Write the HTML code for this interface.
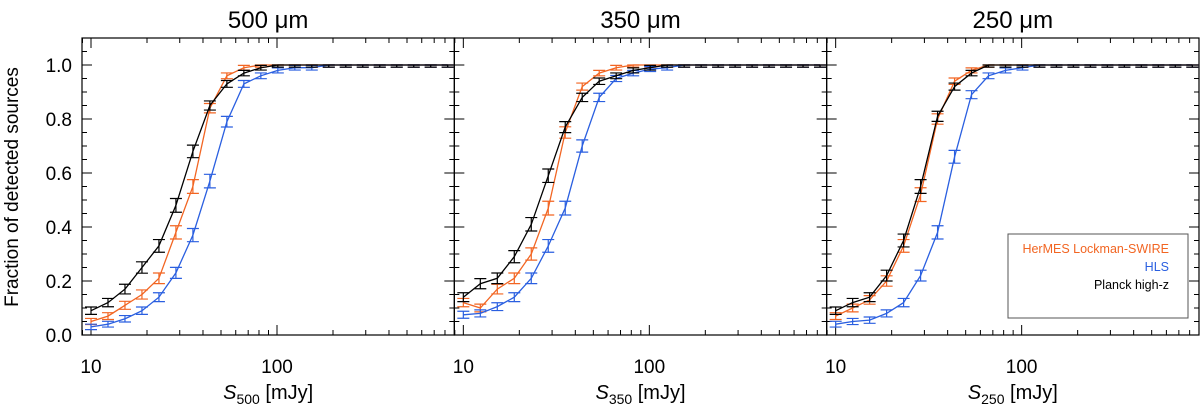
<!DOCTYPE html>
<html><head><meta charset="utf-8"><style>
html,body{margin:0;padding:0;background:#fff;}
svg{display:block;font-family:"Liberation Sans",sans-serif;}
</style></head><body>
<svg id="chart" width="1200" height="417" viewBox="0 0 1200 417">
<text x="18" y="187" transform="rotate(-90 18 187)" text-anchor="middle" font-size="19">Fraction of detected sources</text>
<g id="panels"></g>
<g>
<rect x="1008" y="234" width="180" height="84" fill="#fff" stroke="#555" stroke-width="1"/>
<text x="1169" y="253" text-anchor="end" font-size="12.5" fill="#f26522">HerMES Lockman-SWIRE</text>
<text x="1169" y="271" text-anchor="end" font-size="12.5" fill="#2a5fe0">HLS</text>
<text x="1169" y="289" text-anchor="end" font-size="12.5" fill="#000">Planck high-z</text>
</g>
</svg>
<script>
const fluxRatio = 1.234;
const nPoints = 22;
const panelTitles = ["500", "350", "250"];
const yTicks = [0.0, 0.2, 0.4, 0.6, 0.8, 1.0];
const xTickLabels = [10, 100];
const orange500 = [0.05,0.07,0.11,0.15,0.21,0.38,0.55,0.84,0.96,0.99,1,1,1,1,1,1,1,1,1,1,1,1];
const blue500   = [0.03,0.04,0.06,0.09,0.14,0.23,0.37,0.57,0.79,0.93,0.96,0.98,0.99,0.99,1,1,1,1,1,1,1,1];
const black500  = [0.09,0.12,0.17,0.25,0.33,0.48,0.68,0.85,0.93,0.97,0.99,1,1,1,1,1,1,1,1,1,1,1];
const orange350 = [0.12,0.10,0.17,0.21,0.30,0.47,0.75,0.92,0.97,0.99,1,1,1,1,1,1,1,1,1,1,1,1];
const blue350   = [0.075,0.08,0.105,0.14,0.21,0.33,0.47,0.70,0.88,0.95,0.97,0.985,0.99,1,1,1,1,1,1,1,1,1];
const black350  = [0.14,0.19,0.21,0.29,0.41,0.59,0.77,0.88,0.94,0.96,0.98,0.99,1,1,1,1,1,1,1,1,1,1];
const orange250 = [0.07,0.10,0.13,0.20,0.33,0.52,0.80,0.94,0.98,1,1,1,1,1,1,1,1,1,1,1,1,1];
const blue250   = [0.04,0.05,0.055,0.08,0.12,0.22,0.38,0.66,0.89,0.96,0.98,0.99,1,1,1,1,1,1,1,1,1,1];
const black250  = [0.09,0.12,0.14,0.22,0.35,0.55,0.81,0.92,0.97,1,1,1,1,1,1,1,1,1,1,1,1,1];

const panelSeries = [[orange500,blue500,black500],[orange350,blue350,black350],[orange250,blue250,black250]];
const colors = ["#f26522","#2a5fe0","#000"];
const names = ["hermes","hls","planck"];
const NS="http://www.w3.org/2000/svg";
const root=document.getElementById('panels');
const yTop=38,bot=335,ymax=1.1,W=372.33,L0=82,decade=186,xmin=10*Math.pow(10,-9/186);
function mk(t,a,p){const e=document.createElementNS(NS,t);for(const k in a)e.setAttribute(k,a[k]);(p||root).appendChild(e);return e;}
function yS(v){return bot-(v/ymax)*(bot-yTop);}
for(let p=0;p<3;p++){
  const L=L0+p*W,R=L+W;
  const xS=v=>L+Math.log10(v/xmin)*decade;
  const g=mk('g',{});
  
  
  const fr=mk('rect',{x:L,y:yTop,width:W,height:bot-yTop,fill:'none',stroke:'#000','stroke-width':1.2},g);
  
  
  const tt=mk('text',{x:L+W/2,y:28,'text-anchor':'middle','font-size':24},g);
  tt.textContent=panelTitles[p]+' \u03bcm';
  
  
  for(let i=0;i<=22;i++){const v=i*0.05;const y=yS(v);const len=(i%4===0)?10:5;
    mk('line',{x1:L,x2:L+len,y1:y,y2:y,stroke:'#000','stroke-width':1},g);
    mk('line',{x1:R,x2:R-len,y1:y,y2:y,stroke:'#000','stroke-width':1},g);}
  if(p===0){for(const v of yTicks){const t=mk('text',{x:L-10,y:yS(v)+7,'text-anchor':'end','font-size':19},g);t.textContent=v.toFixed(1);
    
    }}
  for(let d=1;d<=100;d*=10){for(let m=1;m<=9;m++){const v=d*m;const x=xS(v);if(x<L||x>R)continue;const len=(m===1&&d>=10)?10:5;
    mk('line',{x1:x,x2:x,y1:bot,y2:bot-len,stroke:'#000','stroke-width':1},g);
    mk('line',{x1:x,x2:x,y1:yTop,y2:yTop+len,stroke:'#000','stroke-width':1},g);}}
  for(const v of xTickLabels){const t=mk('text',{x:xS(v),y:373,'text-anchor':'middle','font-size':19},g);t.textContent=v;
    
    }
  const xl=mk('text',{x:L+W/2,y:399,'text-anchor':'middle','font-size':20},g);
  xl.innerHTML='<tspan font-style="italic">S</tspan><tspan font-size="14" dy="5">'+panelTitles[p]+'</tspan><tspan dy="-5"> [mJy]</tspan>';
  
  
  panelSeries[p].forEach((vals,si)=>{
    const sg=mk('g',{},g);
    
    
    let d='';
    vals.forEach((v,i)=>{const x=xS(10*Math.pow(fluxRatio,i));const y=yS(v);d+=(i?'L':'M')+x.toFixed(1)+' '+y.toFixed(1);
      const e=0.008+0.07*v*(1-v);const y1=yS(Math.min(v+e,1.0)),y2=yS(v-e);
      const eb=mk('path',{d:`M${x} ${y1}V${y2}M${x-6} ${y1}H${x+6}M${x-6} ${y2}H${x+6}`,stroke:colors[si],'stroke-width':1.2,fill:'none'},sg);
      
      
    });
    const ln=mk('path',{d:d,stroke:colors[si],'stroke-width':1.3,fill:'none'},sg);
    
    
  });
}
</script>
</body></html>
